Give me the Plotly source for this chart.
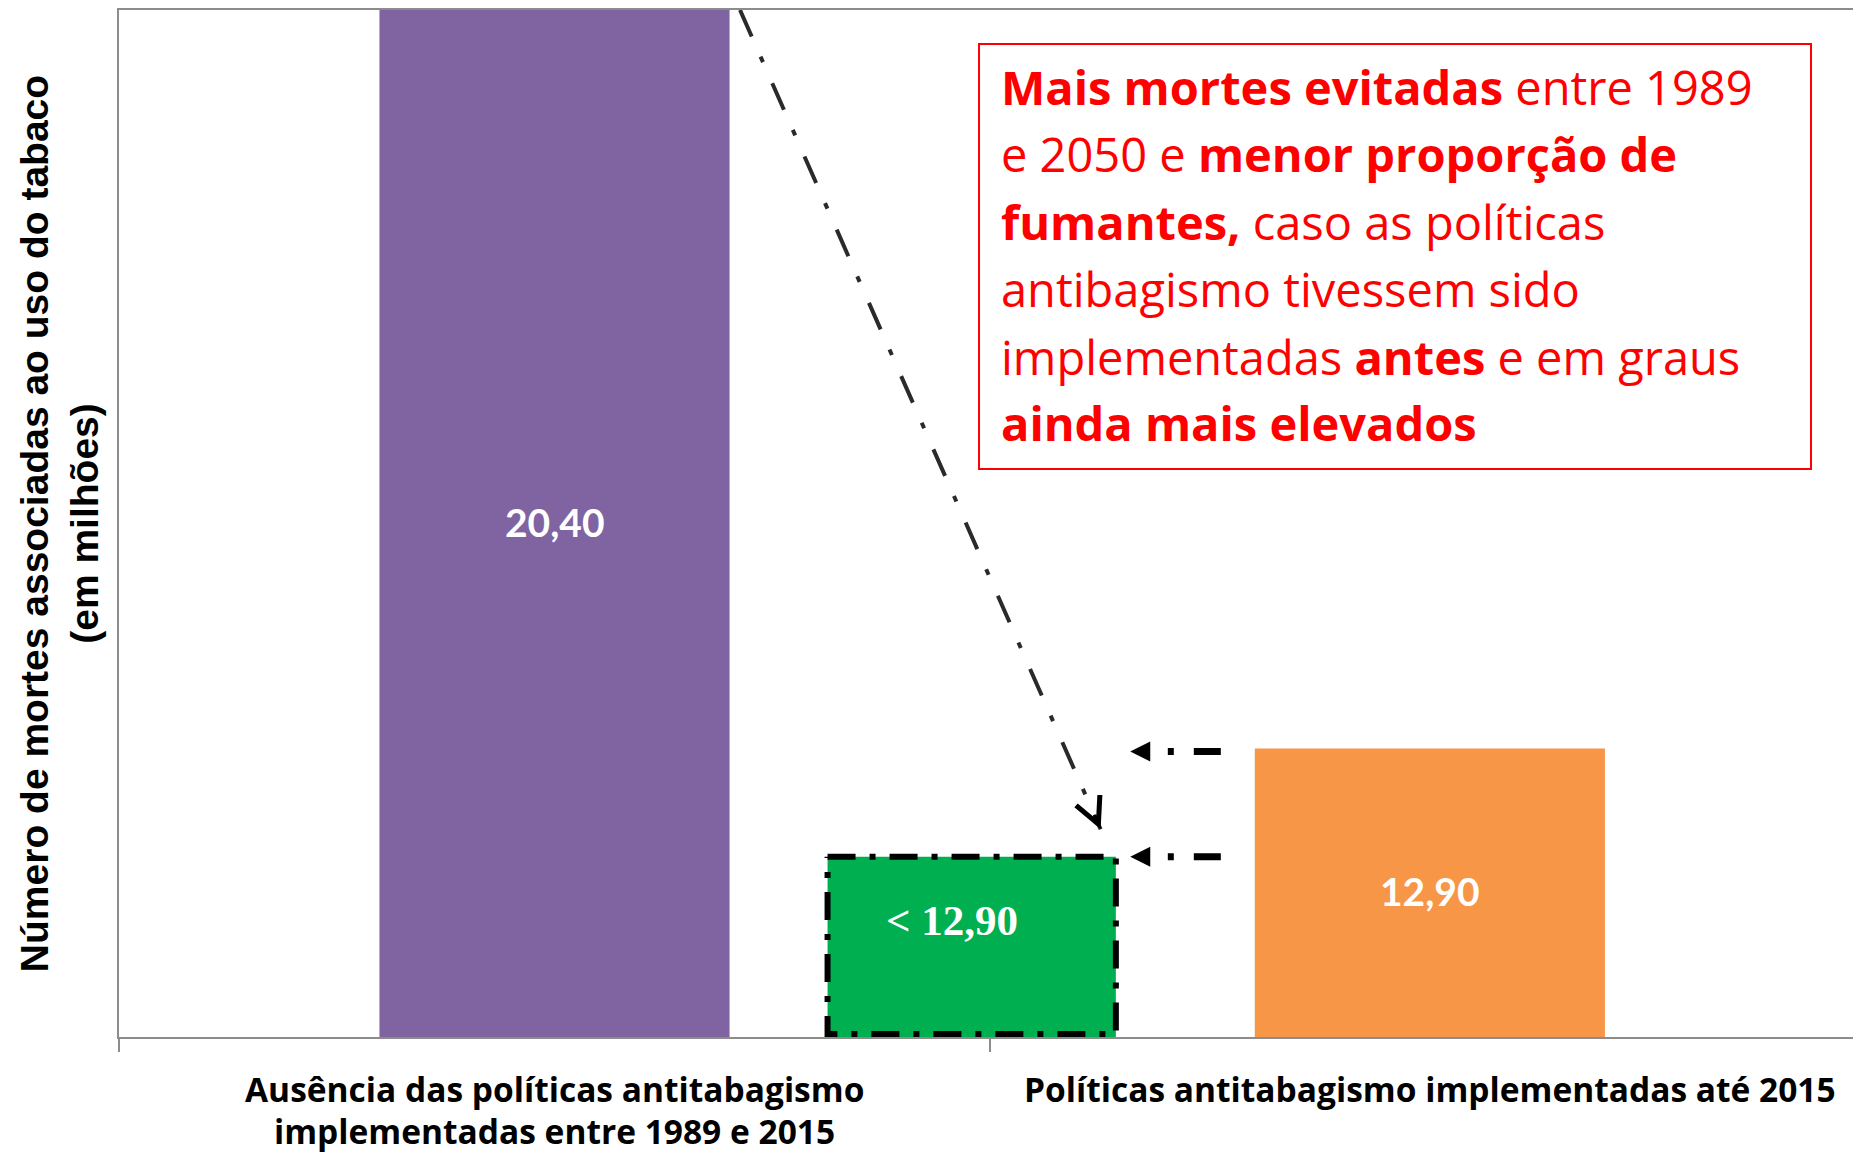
import plotly.graph_objects as go

# ---- data ----
categories = [
    "Ausência das políticas antitabagismo<br>implementadas entre 1989 e 2015",
    "Políticas antitabagismo implementadas até 2015",
]
deaths = [20.40, 12.90]          # mortes associadas ao tabaco (milhões)
deaths_labels = ["20,40", "12,90"]
earlier_deaths = 11.8            # cenário hipotético, rotulado "< 12,90"
earlier_label = "< 12,90"
note_lines = [
    "<b>Mais mortes evitadas</b> entre 1989",
    "e 2050 e <b>menor proporção de</b>",
    "<b>fumantes,</b> caso as políticas",
    "antibagismo tivessem sido",
    "implementadas <b>antes</b> e em graus",
    "<b>ainda mais elevados</b>",
]

# ---- layout constants ----
Y_BASE = 10.0
Y_MIN, Y_MAX = 9.97, 20.4
BAR_X = [0.5, 1.505]
BAR_W = 0.402
GREEN_X, GREEN_W = 0.979, 0.331
COLORS = ["#8064A2", "#F79646"]
GREEN = "#00B050"
AXIS_GRAY = "#8c8c8c"
SANS = "Open Sans"

fig = go.Figure()

fig.add_trace(go.Bar(x=BAR_X, y=deaths, width=BAR_W, marker_color=COLORS,
                     marker_line_width=0, hoverinfo="skip"))
fig.add_trace(go.Bar(x=[GREEN_X], y=[earlier_deaths], width=GREEN_W,
                     marker_color=GREEN, marker_line_width=0, hoverinfo="skip"))

# dash-dot outline around the hypothetical bar
gx0, gx1 = GREEN_X - GREEN_W / 2, GREEN_X + GREEN_W / 2
fig.add_trace(go.Scatter(
    x=[gx0, gx1, gx1, gx0, gx0],
    y=[earlier_deaths, earlier_deaths, Y_BASE, Y_BASE, earlier_deaths],
    mode="lines", line=dict(color="black", width=6, dash="28px,14px,6px,14px"),
    hoverinfo="skip"))

# long diagonal arrow from the purple bar to the green bar
diag_start = (0.713, Y_MAX)
diag_tip = (1.127, 12.08)
fig.add_trace(go.Scatter(
    x=[diag_start[0], diag_tip[0]], y=[diag_start[1], diag_tip[1]],
    mode="lines", line=dict(color="#2a2a2a", width=4, dash="29px,22px,6px,23px"),
    hoverinfo="skip"))

# short horizontal arrows pointing at the two lower bar tops
h_tail, h_body_end, h_tip = 1.265, 1.184, 1.161
for yv in [deaths[1] - 0.03, earlier_deaths]:
    fig.add_trace(go.Scatter(
        x=[h_tail, h_body_end], y=[yv, yv], mode="lines",
        line=dict(color="black", width=7, dash="27px,20px,6px,40px"),
        hoverinfo="skip"))
    fig.add_annotation(x=h_tip, y=yv, ax=14, ay=0, text="", showarrow=True,
                       arrowhead=2, arrowsize=2, arrowwidth=2, arrowcolor="black")

fig.add_annotation(x=diag_tip[0], y=diag_tip[1], ax=-7, ay=-16, text="",
                   showarrow=True, arrowhead=5, arrowsize=1.7, arrowwidth=3,
                   arrowcolor="black")

# value labels
for xv, v, lab in zip(BAR_X, deaths, deaths_labels):
    fig.add_annotation(x=xv, y=(Y_BASE + v) / 2, text=f"<b>{lab}</b>", showarrow=False,
                       font=dict(family="Lato", size=39, color="white"))
fig.add_annotation(x=GREEN_X - 0.023, y=Y_BASE + 0.64 * (earlier_deaths - Y_BASE),
                   text=f"<b>{earlier_label}</b>", showarrow=False,
                   font=dict(family="Liberation Serif", size=43, color="white"))

# category labels below the axis (one annotation per line for Excel-like spacing)
label_rows = [-0.0505, -0.092]
for xv, cat in zip(BAR_X, categories):
    for row, part in zip(label_rows, cat.split("<br>")):
        fig.add_annotation(x=xv, yref="paper", y=row, text=f"<b>{part}</b>",
                           showarrow=False, yanchor="middle",
                           font=dict(family=SANS, size=33.5, color="black"))

# red note box
fig.add_shape(type="rect", xref="paper", yref="paper", x0=0.4937, x1=0.9713,
              y0=0.553, y1=0.967, line=dict(color="#FF0000", width=2),
              fillcolor="rgba(0,0,0,0)")
line_y = [0.9253, 0.8596, 0.7938, 0.7281, 0.6623, 0.5978]
for txt, yy in zip(note_lines, line_y):
    fig.add_annotation(xref="paper", yref="paper", x=0.505, y=yy, text=txt,
                       showarrow=False, xanchor="left", yanchor="middle",
                       font=dict(family=SANS, size=47, color="#FF0000"))

# the page body adds an 8px offset, so the figure is 8px smaller than the window
fig.update_layout(
    width=1853, height=1149,
    margin=dict(l=111, r=0, t=0, b=120),
    plot_bgcolor="white", paper_bgcolor="white",
    barmode="overlay", showlegend=False,
)
fig.update_xaxes(
    range=[0, 2], showticklabels=False, ticks="", showgrid=False, zeroline=False,
    showline=True, linecolor=AXIS_GRAY, linewidth=2, mirror=True,
    minor=dict(tickvals=[0, 1, 2], ticks="outside", ticklen=13,
               tickcolor=AXIS_GRAY, tickwidth=2),
)
fig.update_yaxes(
    range=[Y_MIN, Y_MAX], showticklabels=False, ticks="", showgrid=False,
    zeroline=False, showline=True, linecolor=AXIS_GRAY, linewidth=2,
    title=dict(text="<b>Número de mortes associadas ao uso do tabaco<br>(em milhões)</b>",
               font=dict(family="Liberation Sans", size=39, color="black"),
               standoff=6),
)

fig.write_html("out.html")
